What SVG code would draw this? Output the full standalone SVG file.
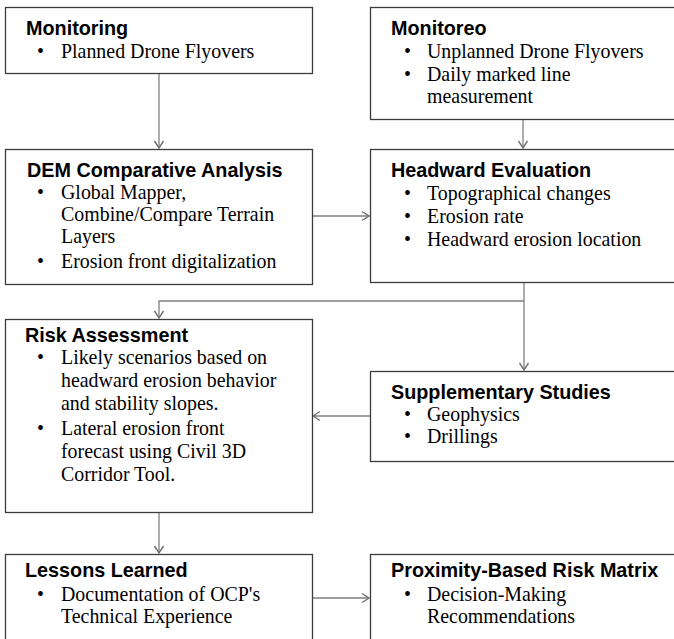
<svg xmlns="http://www.w3.org/2000/svg" width="674" height="639" viewBox="0 0 674 639">
<style>
.box{fill:#fff;stroke:#3c3c3c;stroke-width:1.3}
.t{font-family:"Liberation Sans",Arial,sans-serif;font-weight:bold;font-size:19.8px;fill:#000}
.b{font-family:"Liberation Serif","Times New Roman",serif;font-size:19.9px;fill:#000}
.c{fill:none;stroke:#808080;stroke-width:1.3}
</style>
<defs>
<marker id="ah" markerUnits="userSpaceOnUse" markerWidth="12" markerHeight="12" viewBox="0 0 12 12" refX="10" refY="6" orient="auto">
<path d="M3,1.5 L10,6 L3,10.5" fill="none" stroke="#707070" stroke-width="1.4"/>
</marker>
</defs>
<rect width="674" height="639" fill="#fff"/>
<g id="connectors">
<path class="c" d="M159,73 V148" marker-end="url(#ah)"/>
<path class="c" d="M523,119 V148" marker-end="url(#ah)"/>
<path class="c" d="M312,216 H369" marker-end="url(#ah)"/>
<path class="c" d="M524,282 V370" marker-end="url(#ah)"/>
<path class="c" d="M524,301 H159 V318" marker-end="url(#ah)"/>
<path class="c" d="M370,416 H313" marker-end="url(#ah)"/>
<path class="c" d="M159,512 V553" marker-end="url(#ah)"/>
<path class="c" d="M312,598 H369" marker-end="url(#ah)"/>
</g>
<g id="monitoring">
<rect class="box" x="5.5" y="7.5" width="307" height="66"/>
<text class="t" x="26" y="35">Monitoring</text>
<text class="b"><tspan x="37" y="58">•</tspan><tspan x="61" y="58">Planned Drone Flyovers</tspan></text>
</g>
<g id="monitoreo">
<rect class="box" x="370.5" y="7.5" width="320" height="112"/>
<text class="t" x="391" y="35">Monitoreo</text>
<text class="b"><tspan x="404" y="58">•</tspan><tspan x="427" y="58">Unplanned Drone Flyovers</tspan><tspan x="404" y="81">•</tspan><tspan x="427" y="81">Daily marked line</tspan><tspan x="427" y="103">measurement</tspan></text>
</g>
<g id="dem">
<rect class="box" x="5.5" y="149.5" width="307" height="135"/>
<text class="t" x="27" y="177">DEM Comparative Analysis</text>
<text class="b"><tspan x="37" y="199">•</tspan><tspan x="61" y="199">Global Mapper,</tspan><tspan x="61" y="221">Combine/Compare Terrain</tspan><tspan x="61" y="243">Layers</tspan><tspan x="37" y="268">•</tspan><tspan x="61" y="268">Erosion front digitalization</tspan></text>
</g>
<g id="headward">
<rect class="box" x="370.5" y="149.5" width="320" height="133"/>
<text class="t" x="391" y="177">Headward Evaluation</text>
<text class="b"><tspan x="404" y="200">•</tspan><tspan x="427" y="200">Topographical changes</tspan><tspan x="404" y="223">•</tspan><tspan x="427" y="223">Erosion rate</tspan><tspan x="404" y="246">•</tspan><tspan x="427" y="246">Headward erosion location</tspan></text>
</g>
<g id="risk">
<rect class="box" x="5.5" y="319.5" width="307" height="193"/>
<text class="t" x="25" y="342">Risk Assessment</text>
<text class="b"><tspan x="37" y="364">•</tspan><tspan x="61" y="364">Likely scenarios based on</tspan><tspan x="61" y="387">headward erosion behavior</tspan><tspan x="61" y="410">and stability slopes.</tspan><tspan x="37" y="435">•</tspan><tspan x="61" y="435">Lateral erosion front</tspan><tspan x="61" y="458">forecast using Civil 3D</tspan><tspan x="61" y="481">Corridor Tool.</tspan></text>
</g>
<g id="supplementary">
<rect class="box" x="370.5" y="371.5" width="320" height="90"/>
<text class="t" x="391" y="399">Supplementary Studies</text>
<text class="b"><tspan x="404" y="421">•</tspan><tspan x="427" y="421">Geophysics</tspan><tspan x="404" y="443">•</tspan><tspan x="427" y="443">Drillings</tspan></text>
</g>
<g id="lessons">
<rect class="box" x="5.5" y="554.5" width="307" height="110"/>
<text class="t" x="25" y="577">Lessons Learned</text>
<text class="b"><tspan x="37" y="601">•</tspan><tspan x="61" y="601">Documentation of OCP's</tspan><tspan x="61" y="623">Technical Experience</tspan></text>
</g>
<g id="proximity">
<rect class="box" x="370.5" y="554.5" width="320" height="110"/>
<text class="t" x="391" y="577">Proximity-Based Risk Matrix</text>
<text class="b"><tspan x="404" y="601">•</tspan><tspan x="427" y="601">Decision-Making</tspan><tspan x="427" y="623">Recommendations</tspan></text>
</g>
</svg>
